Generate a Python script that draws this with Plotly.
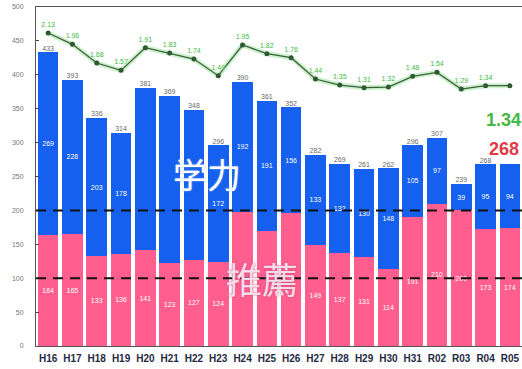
import plotly.graph_objects as go

# Fiscal years (Heisei H16-H31, then Reiwa R02-R05)
years = ["H16", "H17", "H18", "H19", "H20", "H21", "H22", "H23", "H24", "H25",
         "H26", "H27", "H28", "H29", "H30", "H31", "R02", "R03", "R04", "R05"]

# Admissions by recommendation (推薦) and by academic exam (学力)
suisen = [164, 165, 133, 136, 141, 123, 127, 124, 198, 170,
          196, 149, 137, 131, 114, 191, 210, 200, 173, 174]
gakuryoku = [269, 228, 203, 178, 240, 246, 221, 172, 192, 191,
             156, 133, 132, 130, 148, 105, 97, 39, 95, 94]

# Total applicants shown above each bar
totals = [433, 393, 336, 314, 381, 369, 348, 296, 390, 361,
          352, 282, 269, 261, 262, 296, 307, 239, 268, 268]

# Application ratio (倍率)
ratio = [2.13, 1.96, 1.68, 1.57, 1.91, 1.83, 1.74, 1.49, 1.95, 1.82,
         1.76, 1.44, 1.35, 1.31, 1.32, 1.48, 1.54, 1.29, 1.34, 1.34]

BLUE = "#1560EE"
PINK = "#FF5E8F"
GREEN_TXT = "#3DBB3D"

# Segment labels hidden where the large captions sit on top of the bars
hide_blue = {"H20", "H21", "H22"}
hide_pink = {"H24", "H25", "H26"}
blue_txt = ["" if y in hide_blue else str(v) for y, v in zip(years, gakuryoku)]
pink_txt = ["" if y in hide_pink else str(v) for y, v in zip(years, suisen)]

fig = go.Figure()

fig.add_bar(
    x=years, y=suisen, name="推薦", marker_color=PINK, marker_line_width=0,
    text=pink_txt, textposition="inside", insidetextanchor="middle",
    textfont=dict(size=7, color="white"), textangle=0,
)
fig.add_bar(
    x=years, y=gakuryoku, name="学力", marker_color=BLUE, marker_line_width=0,
    text=blue_txt, textposition="inside", insidetextanchor="middle",
    textfont=dict(size=7, color="white"), textangle=0,
)

# Totals above the stacks (last year gets a larger callout instead)
fig.add_scatter(
    x=years[:-1], y=totals[:-1], mode="text", text=[str(t) for t in totals[:-1]],
    textposition="top center", textfont=dict(size=7, color="#6a6a6a"),
    showlegend=False, hoverinfo="skip",
)

# Ratio line: soft green glow under a dark line with markers
fig.add_scatter(
    x=years, y=ratio, yaxis="y2", mode="lines",
    line=dict(color="rgba(150,230,150,0.5)", width=5),
    showlegend=False, hoverinfo="skip",
)
fig.add_scatter(
    x=years, y=ratio, yaxis="y2", mode="lines+markers+text",
    line=dict(color="#3E5E3E", width=1.3),
    marker=dict(color="#2F5A2F", size=5),
    text=[f"{r:.2f}" for r in ratio[:-1]] + [""],
    textposition="top center",
    textfont=dict(size=7, color=GREEN_TXT, shadow="0px 0px 2px white"),
    showlegend=False, cliponaxis=False,
)

# Reference lines at 100 and 200
for level in (100, 200):
    fig.add_shape(
        type="line", xref="paper", x0=0, x1=1, yref="y", y0=level, y1=level,
        line=dict(color="#111111", width=2, dash="10px,7px"), layer="above",
    )

# Category captions (positions given in pixels, converted below)
fig.add_annotation(
    x=171, y=174, text="学力", showarrow=False,
    font=dict(family="Noto Sans CJK JP", size=34, color="white", shadow="0px 0px 2px #8fb3ff"),
)
fig.add_annotation(
    x=262, y=306, text="推薦", showarrow=False,
    font=dict(family="Noto Sans CJK JP", size=36, color="#F6DCE8", shadow="0px 0px 2px #c04070"),
)

# Latest-year callouts
fig.add_annotation(
    x=484, y=108, text="<b>1.34</b>", showarrow=False, xanchor="left",
    font=dict(family="Liberation Sans", size=18, color="#43B843"),
)
fig.add_annotation(
    x=487, y=149, text="<b>268</b>", showarrow=False, xanchor="left",
    font=dict(family="Liberation Sans", size=18, color="#E03A45"),
)

# Convert pixel positions of annotations into paper coordinates
L, T, W, H, B = 36, 7, 522, 369, 23
pw, ph = W - L, H - T - B
for ann in fig.layout.annotations:
    ann.x = (ann.x - L) / pw
    ann.y = 1 - (ann.y - T) / ph
    ann.xref = "paper"
    ann.yref = "paper"

fig.update_layout(
    width=W, height=H,
    margin=dict(l=L, r=0, t=T, b=B),
    barmode="stack", bargap=0.15,
    plot_bgcolor="white", paper_bgcolor="white",
    showlegend=False,
    font=dict(family="Liberation Sans"),
    uniformtext=dict(mode="show", minsize=7),
    xaxis=dict(
        range=[-0.5, len(years) - 0.5],
        tickfont=dict(size=10, color="#1f2a44", family="Liberation Sans"),
        tickprefix="<b>", ticksuffix="</b>",
        showline=True, linecolor="#555555", linewidth=1, mirror=True,
        ticks="", showgrid=False, ticklabelstandoff=3,
    ),
    yaxis=dict(
        range=[0, 500], tickvals=list(range(0, 501, 50)),
        tickfont=dict(size=7, color="#777777"),
        showline=True, linecolor="#555555", linewidth=1, mirror=True,
        ticks="inside", ticklen=3, tickcolor="#444444",
        ticklabelstandoff=10,
        showgrid=False, zeroline=False,
    ),
    yaxis2=dict(
        overlaying="y", side="right", range=[-2.563, 2.52],
        visible=False, showgrid=False,
    ),
)

fig.write_html("out.html")
